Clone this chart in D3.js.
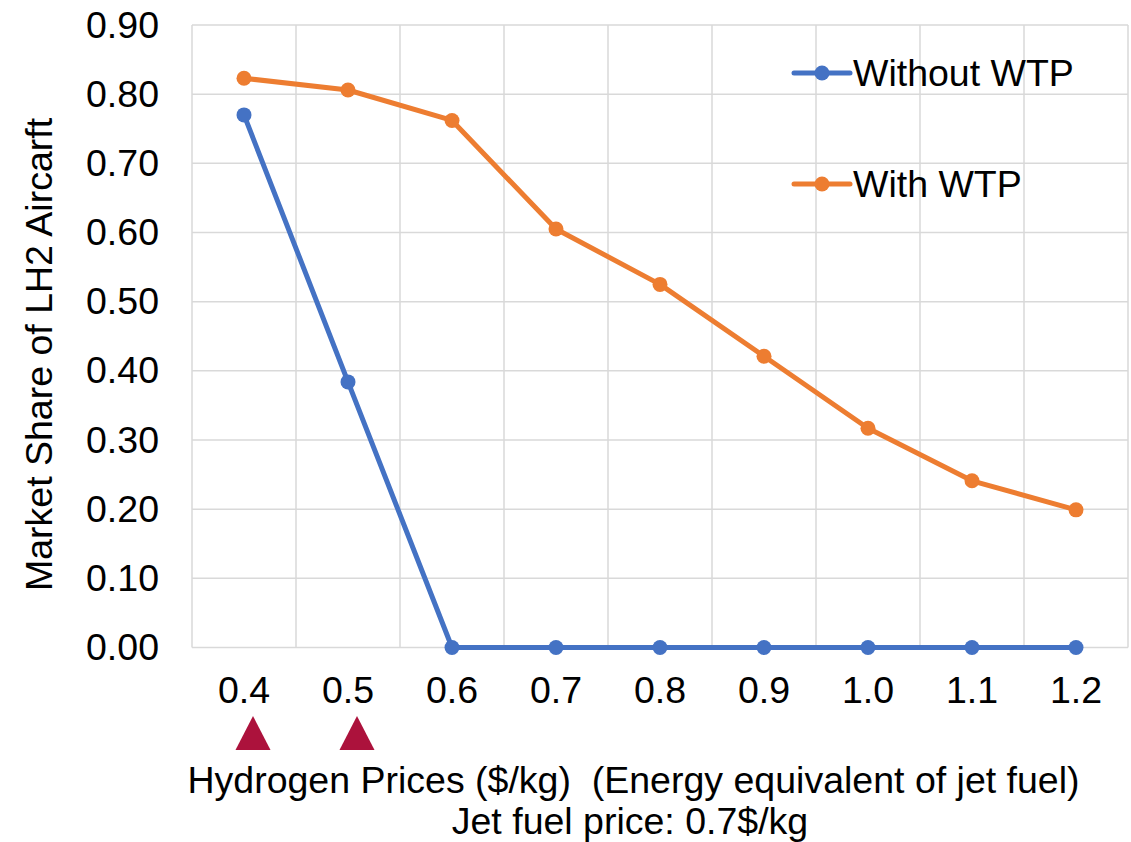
<!DOCTYPE html>
<html>
<head>
<meta charset="utf-8">
<script src="https://cdn.jsdelivr.net/npm/d3@7"></script>
<style>
  body { margin: 0; background: #fff; }
  text { font-family: "Liberation Sans", Arial, sans-serif; fill: #000; }
</style>
</head>
<body>
<svg id="chart" width="1131" height="842"></svg>
<script>
const categories = ["0.4", "0.5", "0.6", "0.7", "0.8", "0.9", "1.0", "1.1", "1.2"];
const withoutWTP = [0.77, 0.384, 0, 0, 0, 0, 0, 0, 0];
const withWTP = [0.823, 0.806, 0.762, 0.605, 0.525, 0.421, 0.317, 0.241, 0.199];
const yTicks = [0, 0.1, 0.2, 0.3, 0.4, 0.5, 0.6, 0.7, 0.8, 0.9];
const markedCategories = ["0.4", "0.5"];
const seriesNames = ["Without WTP", "With WTP"];
const colors = ["#4472C4", "#ED7D31"];

const FS = 37.5;
const svg = d3.select("#chart");
const pLeft = 192, pRight = 1128, pTop = 25, pBottom = 647.5;

const x = d3.scaleBand().domain(categories).range([pLeft, pRight]).padding(0);
const y = d3.scaleLinear().domain([0, 0.9]).range([pBottom, pTop]);

// gridlines
const grid = svg.append("g");
grid.selectAll("line.h").data(yTicks).join("line")
  .attr("x1", pLeft).attr("x2", pRight)
  .attr("y1", d => y(d)).attr("y2", d => y(d))
  .attr("stroke", "#d9d9d9").attr("stroke-width", 1.5);
const vb = categories.map(c => x(c)).concat([pRight]);
grid.selectAll("line.v").data(vb).join("line")
  .attr("x1", d => d).attr("x2", d => d)
  .attr("y1", pTop).attr("y2", pBottom)
  .attr("stroke", "#d9d9d9").attr("stroke-width", 1.5);

// y axis labels
const yAxis = d3.axisLeft(y).tickValues(yTicks).tickFormat(d3.format(".2f")).tickSize(0).tickPadding(0);
const yg = svg.append("g").attr("transform", `translate(${pLeft - 33},0)`).call(yAxis);
yg.select(".domain").remove();
yg.selectAll("text").attr("font-size", FS).attr("font-family", "Liberation Sans, Arial, sans-serif").attr("fill", "#000");

// x axis labels
const xAxis = d3.axisBottom(x).tickSize(0).tickPadding(0);
const xg = svg.append("g").attr("transform", `translate(0,${pBottom + 29})`).call(xAxis);
xg.select(".domain").remove();
xg.selectAll("text").attr("font-size", FS).attr("font-family", "Liberation Sans, Arial, sans-serif").attr("fill", "#000");

// lines
const cx = c => x(c) + x.bandwidth() / 2;
[withoutWTP, withWTP].forEach((vals, i) => {
  const pts = categories.map((c, j) => [cx(c), y(vals[j])]);
  svg.append("path").attr("d", d3.line()(pts))
    .attr("fill", "none").attr("stroke", colors[i]).attr("stroke-width", 5)
    .attr("stroke-linejoin", "round");
  svg.append("g").selectAll("circle").data(pts).join("circle")
    .attr("cx", d => d[0]).attr("cy", d => d[1]).attr("r", 7.5).attr("fill", colors[i]);
});

// legend
const legY = [73, 184];
seriesNames.forEach((name, i) => {
  const g = svg.append("g");
  g.append("line").attr("x1", 794).attr("x2", 850).attr("y1", legY[i]).attr("y2", legY[i])
    .attr("stroke", colors[i]).attr("stroke-width", 5).attr("stroke-linecap", "round");
  g.append("circle").attr("cx", 822).attr("cy", legY[i]).attr("r", 7.5).attr("fill", colors[i]);
  g.append("text").attr("x", 853).attr("y", legY[i] + 12.5).attr("font-size", FS).text(name);
});

// triangles
svg.append("g").selectAll("path").data(markedCategories).join("path")
  .attr("d", c => {
    const mx = cx(c) + 9;
    return `M${mx - 17.5},750 L${mx},716 L${mx + 17.5},750 Z`;
  })
  .attr("fill", "#AC123C");

// y title
svg.append("text").attr("transform", "translate(52,354.5) rotate(-90)")
  .attr("text-anchor", "middle").attr("font-size", FS).text("Market Share of LH2 Aircarft");

// x title
svg.append("text").attr("x", 633.5).attr("y", 793).attr("text-anchor", "middle").attr("font-size", FS)
  .style("white-space", "pre")
  .text("Hydrogen Prices ($/kg)  (Energy equivalent of jet fuel)");
svg.append("text").attr("x", 630).attr("y", 834).attr("text-anchor", "middle").attr("font-size", FS)
  .text("Jet fuel price: 0.7$/kg");
</script>
</body>
</html>
